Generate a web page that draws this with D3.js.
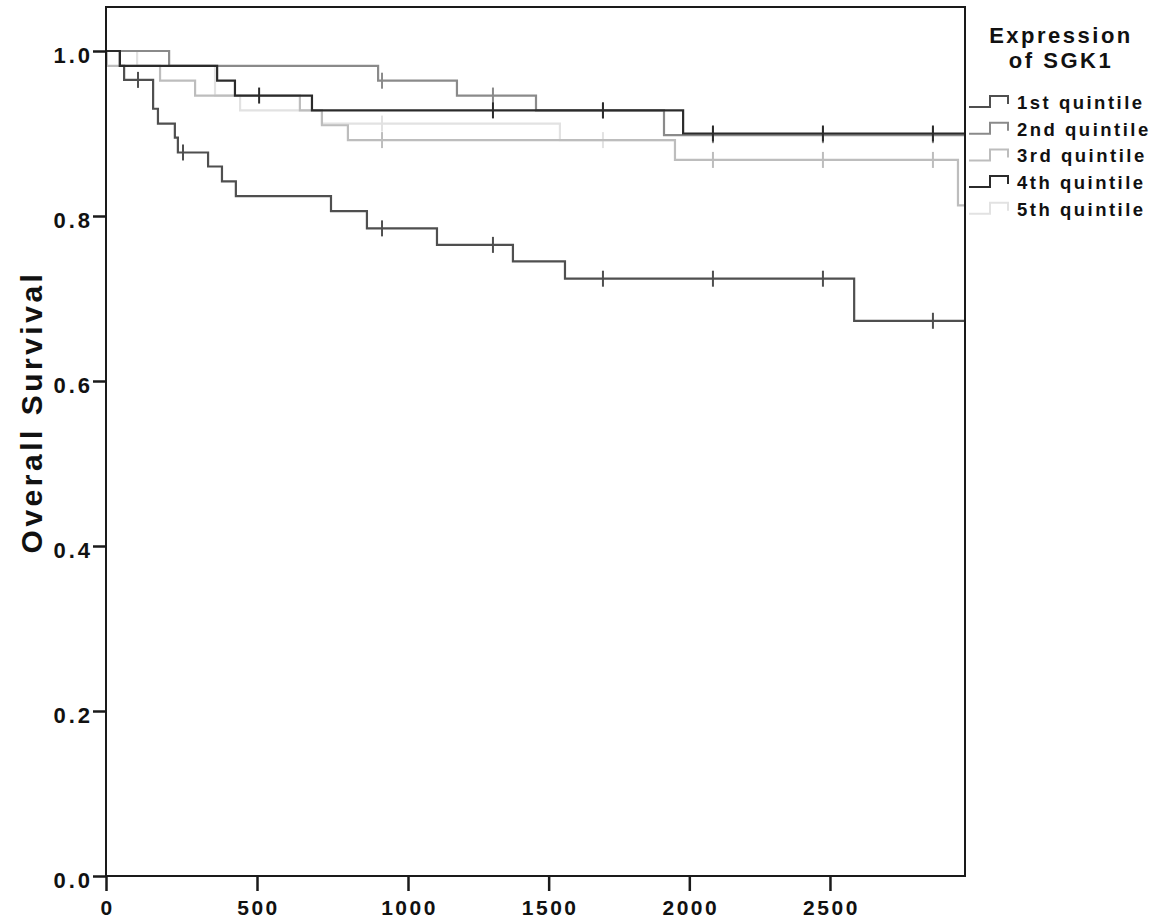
<!DOCTYPE html>
<html>
<head>
<meta charset="utf-8">
<script src="https://d3js.org/d3.v7.min.js"></script>
<style>
body { margin: 0; background: #fff; }
svg { display: block; }
text { font-family: "Liberation Sans", Arial, sans-serif; font-weight: bold; fill: #111; }
</style>
</head>
<body>
<svg id="chart"></svg>
<script>
var width = 1150, height = 922;

// step times (days) and the survival after each step, one pair per quintile
var q1Days = [0, 46, 60, 156, 172, 228, 238, 338, 384, 430, 745, 864, 1103, 1373, 1558, 2586];
var q1Surv = [1.0, 0.982, 0.965, 0.930, 0.912, 0.895, 0.877, 0.860, 0.842, 0.824, 0.806, 0.785, 0.765, 0.745, 0.724, 0.673];
var q1Censor = [106, 255, 914, 1302, 1693, 2084, 2475, 2866];

var q2Days = [0, 209, 901, 1174, 1455, 1910];
var q2Surv = [1.0, 0.982, 0.964, 0.946, 0.928, 0.898];
var q2Censor = [914, 1302, 1693, 2084, 2475, 2866];

var q3Days = [0, 3, 179, 295, 642, 715, 801, 1949, 2955];
var q3Surv = [1.0, 0.982, 0.964, 0.946, 0.928, 0.910, 0.892, 0.868, 0.813];
var q3Censor = [914, 2084, 2475, 2866];

var q4Days = [0, 46, 368, 427, 682, 1978];
var q4Surv = [1.0, 0.982, 0.964, 0.946, 0.928, 0.900];
var q4Censor = [507, 1302, 1693, 2084, 2475, 2866];

var q5Days = [0, 103, 361, 444, 715, 1540];
var q5Surv = [1.0, 0.982, 0.946, 0.928, 0.912, 0.892];
var q5Censor = [914, 1693];

var lastDay = [2980, 2980, 2980, 2980, 1949];
var names = ["1st quintile", "2nd quintile", "3rd quintile", "4th quintile", "5th quintile"];
var colors = ["#4f4f4f", "#8a8a8a", "#bdbdbd", "#2b2b2b", "#e2e2e2"];
var xTicks = [0, 500, 1000, 1500, 2000, 2500];
var yTicks = [0, 0.2, 0.4, 0.6, 0.8, 1.0];

var series = [
	{ days: q1Days, surv: q1Surv, censor: q1Censor },
	{ days: q2Days, surv: q2Surv, censor: q2Censor },
	{ days: q3Days, surv: q3Surv, censor: q3Censor },
	{ days: q4Days, surv: q4Surv, censor: q4Censor },
	{ days: q5Days, surv: q5Surv, censor: q5Censor }
];
series.forEach(function (s, i) {
	s.name = names[i];
	s.color = colors[i];
	s.points = s.days.map(function (d, j) { return [d, s.surv[j]]; });
	s.points.push([lastDay[i], s.surv[s.surv.length - 1]]);
});

// note: "top" is reserved on window, so use plotTop
var plotLeft = 106, plotRight = 965, plotTop = 7, plotBottom = 876;

var svg = d3.select("#chart").attr("width", width).attr("height", height);

// the source figure's x axis is not evenly spaced, so use a two-part scale
var xScale = d3.scaleLinear().domain([0, 1000, 2980]).range([plotLeft, 408, plotRight]);
var yScale = d3.scaleLinear().domain([0, 1]).range([plotBottom, 51]);

svg.append("clipPath").attr("id", "plotclip")
	.append("rect").attr("x", plotLeft).attr("y", plotTop)
	.attr("width", plotRight - plotLeft).attr("height", plotBottom - plotTop);

var line = d3.line()
	.x(function (d) { return xScale(d[0]); })
	.y(function (d) { return yScale(d[1]); })
	.curve(d3.curveStepAfter);

// draw light series first so the dark ones sit on top
var drawOrder = [4, 2, 1, 0, 3];
var plot = svg.append("g").attr("clip-path", "url(#plotclip)");

drawOrder.forEach(function (i) {
	var s = series[i];
	plot.append("path")
		.attr("d", line(s.points))
		.attr("fill", "none")
		.attr("stroke", s.color)
		.attr("stroke-width", 2.2);

	plot.selectAll(null).data(s.censor).enter().append("line")
		.attr("x1", function (t) { return xScale(t); })
		.attr("x2", function (t) { return xScale(t); })
		.attr("y1", function (t) { return yScale(s.surv[d3.bisectRight(s.days, t) - 1]) - 8; })
		.attr("y2", function (t) { return yScale(s.surv[d3.bisectRight(s.days, t) - 1]) + 8; })
		.attr("stroke", s.color)
		.attr("stroke-width", 2);
});

// frame
svg.append("rect")
	.attr("x", plotLeft).attr("y", plotTop)
	.attr("width", plotRight - plotLeft).attr("height", plotBottom - plotTop)
	.attr("fill", "none").attr("stroke", "#1a1a1a").attr("stroke-width", 2);

// axes
var yAxis = svg.append("g").attr("transform", "translate(" + plotLeft + ",0)")
	.call(d3.axisLeft(yScale).tickValues(yTicks).tickFormat(d3.format(".1f")).tickSize(13).tickPadding(0));
yAxis.select(".domain").remove();
yAxis.selectAll("line").attr("stroke", "#1a1a1a").attr("stroke-width", 2.5);
yAxis.selectAll("text").attr("font-size", 22).attr("letter-spacing", 3).attr("dy", "0.5em")
	.attr("font-family", "Liberation Sans, Arial, sans-serif").attr("fill", "#111");

var xAxis = svg.append("g").attr("transform", "translate(0," + plotBottom + ")")
	.call(d3.axisBottom(xScale).tickValues(xTicks).tickFormat(d3.format("d")).tickSize(15).tickPadding(9));
xAxis.select(".domain").remove();
xAxis.selectAll("line").attr("stroke", "#1a1a1a").attr("stroke-width", 2.5);
xAxis.selectAll("text").attr("font-size", 21).attr("letter-spacing", 2.5).attr("dx", 1)
	.attr("font-family", "Liberation Sans, Arial, sans-serif").attr("fill", "#111");

// y title
svg.append("text")
	.attr("transform", "translate(42,412) rotate(-90)")
	.attr("text-anchor", "middle")
	.attr("font-size", 30)
	.attr("letter-spacing", 3.5)
	.text("Overall Survival");

// legend
var legend = svg.append("g");
legend.append("text").attr("x", 1061).attr("y", 43).attr("text-anchor", "middle")
	.attr("font-size", 22).attr("letter-spacing", 2.5).text("Expression");
legend.append("text").attr("x", 1061).attr("y", 68).attr("text-anchor", "middle")
	.attr("font-size", 22).attr("letter-spacing", 2.5).text("of SGK1");

var item = legend.selectAll("g.item").data(series).enter().append("g")
	.attr("class", "item")
	.attr("transform", function (d, i) { return "translate(0," + (103 + i * 26.7) + ")"; });

item.append("path")
	.attr("d", "M969,4H990V-7H1008V1")
	.attr("fill", "none")
	.attr("stroke", function (d) { return d.color; })
	.attr("stroke-width", 2);

item.append("text")
	.attr("x", 1017).attr("y", 6)
	.attr("font-size", 18.5).attr("letter-spacing", 2.5)
	.text(function (d) { return d.name; });
</script>
</body>
</html>
